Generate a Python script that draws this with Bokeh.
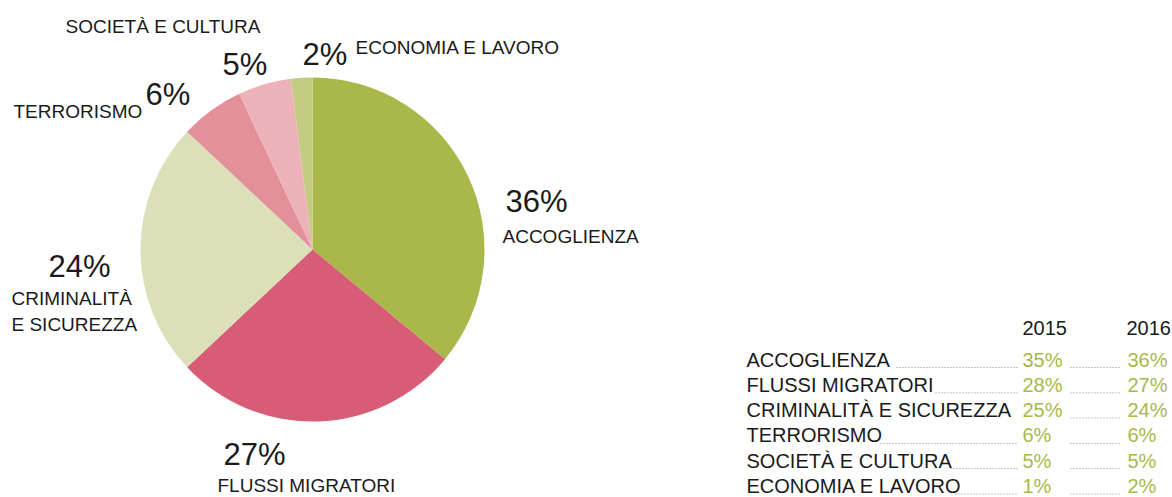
import numpy as np
from bokeh.plotting import figure
from bokeh.models import Range1d, ColumnDataSource
from bokeh.core.properties import value
from bokeh.embed import file_html
from bokeh.resources import INLINE

# ---- data ----
categories = ["ACCOGLIENZA", "FLUSSI MIGRATORI", "CRIMINALITÀ E SICUREZZA",
              "TERRORISMO", "SOCIETÀ E CULTURA", "ECONOMIA E LAVORO"]
values_2015 = [35, 28, 25, 6, 5, 1]
values_2016 = [36, 27, 24, 6, 5, 2]
years = ["2015", "2016"]
slice_colors = ["#a9b848", "#d85c75", "#dce0b8", "#e3909b", "#edb2b9", "#c3cb83"]

# ---- layout helpers (reference px -> data) ----
W, H = 1172, 497
def X(sx):
    return sx
def Y(sy):
    return H - sy

# empirical baseline correction of the svg text renderer
OFF_S = 9      # 19/20px texts
OFF_L = 11.5   # 31px texts

FONT = value("Liberation Sans")
INK = "#1a1a1a"
GREEN = "#a9b848"

p = figure(width=W, height=H, x_range=Range1d(0, W), y_range=Range1d(0, H),
           output_backend="svg", toolbar_location=None, min_border=0)
p.axis.visible = False
p.grid.visible = False
p.outline_line_color = None
p.background_fill_color = "white"
p.border_fill_color = "white"

# ---- pie (2016) ----
vals = np.array(values_2016, dtype=float)
frac = vals / vals.sum()
cum = np.cumsum(frac)
start = np.pi / 2 - 2 * np.pi * (cum - frac)
end = np.pi / 2 - 2 * np.pi * cum
src = ColumnDataSource(dict(start=start, end=end, color=slice_colors))
p.wedge(x=X(312), y=Y(249), radius=172, start_angle="start", end_angle="end",
        direction="clock", fill_color="color", line_color=None, source=src)

# ---- pie labels ----
pct_pos = [(505, 212), (223, 465), (48, 277), (145, 105), (222, 75), (302, 65)]
name_lines = [
    [("ACCOGLIENZA", 502, 245)],
    [("FLUSSI MIGRATORI", 217, 494)],
    [("CRIMINALITÀ", 11, 307), ("E SICUREZZA", 11, 333)],
    [("TERRORISMO", 13, 120)],
    [("SOCIETÀ E CULTURA", 65, 35)],
    [("ECONOMIA E LAVORO", 355, 56)],
]
p.text(x=[X(a) for a, b in pct_pos], y=[Y(b - OFF_L) for a, b in pct_pos],
       text=[f"{v}%" for v in values_2016], text_font=FONT, text_font_size="31px",
       text_color=INK, text_align="left", text_baseline="alphabetic")
nx, ny, nt = [], [], []
for lines in name_lines:
    for t, a, b in lines:
        nt.append(t); nx.append(X(a)); ny.append(Y(b - OFF_S))
p.text(x=nx, y=ny, text=nt, text_font=FONT, text_font_size="19px",
       text_color=INK, text_align="left", text_baseline="alphabetic")

# ---- table ----
col_x = [1022, 1127]
head_y = 336
row0, step = 368, 25.3
row_y = [row0 + i * step for i in range(len(categories))]

p.text(x=[X(1022), X(1126)], y=[Y(head_y - OFF_S)] * 2, text=years, text_font=FONT,
       text_font_size="20px", text_color=INK, text_align="left", text_baseline="alphabetic")
p.text(x=[X(746)] * len(categories), y=[Y(r - OFF_S) for r in row_y], text=categories,
       text_font=FONT, text_font_size="20px", text_color=INK,
       text_align="left", text_baseline="alphabetic")
for vals_y, cx in zip([values_2015, values_2016], col_x):
    p.text(x=[X(cx)] * len(vals_y), y=[Y(r - OFF_S) for r in row_y],
           text=[f"{v}%" for v in vals_y], text_font=FONT, text_font_size="20px",
           text_color=GREEN, text_align="left", text_baseline="alphabetic")

# dotted leaders
lead1_start = [896, 935, None, 880, 950, 955]
xs, ys = [], []
for s, r in zip(lead1_start, row_y):
    if s is not None:
        xs.append([X(s), X(1018)]); ys.append([Y(r - 1), Y(r - 1)])
    xs.append([X(1070), X(1120)]); ys.append([Y(r - 1), Y(r - 1)])
p.multi_line(xs=xs, ys=ys, line_color="#8a8a8a", line_width=1, line_dash="1 2")

open("out.html", "w").write(file_html(p, INLINE))
